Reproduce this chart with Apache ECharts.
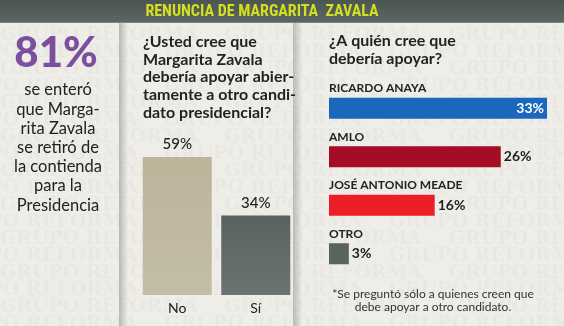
<!DOCTYPE html>
<html><head><meta charset="utf-8">
<script src="https://cdn.jsdelivr.net/npm/echarts@6/dist/echarts.min.js"></script>
<style>html,body{margin:0;padding:0;background:#eeede8}#c{width:564px;height:326px}</style>
</head><body><div id="c"></div>
<script>
// Data
var title = 'RENUNCIA DE MARGARITA  ZAVALA';
var leftBig = '81%';
var leftText = ['se enteró', 'que Marga-', 'rita Zavala', 'se retiró de', 'la contienda', 'para la', 'Presidencia'];
var q1Lines = ['¿Usted cree que', 'Margarita Zavala', 'debería apoyar abier-', 'tamente a otro candi-', 'dato presidencial?'];
var q1Categories = ['No', 'Sí'];
var q1Values = [59, 34];
var q2Lines = ['¿A quién cree que', 'debería apoyar?'];
var q2Categories = ['RICARDO ANAYA', 'AMLO', 'JOSÉ ANTONIO MEADE', 'OTRO'];
var q2Values = [33, 26, 16, 3];
var footnote = ['*Se preguntó sólo a quienes creen que', 'debe apoyar a otro candidato.'];

var F = 'Lato, "Open Sans", sans-serif';
var q1Colors = ['#bcb49b', '#58625e'];
var q2Colors = ['#1a67bd', '#a60c25', '#ec1f27', '#59635f'];

var graphics = [];
// watermark
for (var r = 0; r < 18; r++) {
  var y = 26 + r * 17;
  var off = (r % 2) ? -60 : 0;
  graphics.push({type:'text', silent:true, z:0, x: off, y: y,
    style:{text:'GRUPO REFORMA    GRUPO REFORMA    GRUPO REFORMA    GRUPO REFORMA', font:'bold 19px "DejaVu Serif", serif', fill:'rgba(110,105,90,0.045)'}});
}
// title bar
graphics.push({type:'rect', z:5, shape:{x:0,y:0,width:564,height:23},
  style:{fill:new echarts.graphic.LinearGradient(0,0,0,1,[{offset:0,color:'#4b5552'},{offset:1,color:'#5c6763'}])}});
graphics.push({type:'rect', z:5, shape:{x:0,y:22,width:564,height:1}, style:{fill:'#7d8682'}});
graphics.push({type:'text', z:6, x:262, y:12, style:{text:title, font:'bold 16px "Liberation Sans Narrow", "Roboto Condensed", Lato, sans-serif', fill:'#d3df1f', textAlign:'center', textVerticalAlign:'middle'}});
// panel shadows
[119, 293].forEach(function(x){
  graphics.push({type:'rect', z:4, shape:{x:x,y:23,width:9,height:303},
    style:{fill:new echarts.graphic.LinearGradient(0,0,1,0,[{offset:0,color:'rgba(90,90,80,0.35)'},{offset:1,color:'rgba(90,90,80,0)'}])}});
});
// left panel
graphics.push({type:'text', z:6, x:56, y:53, style:{text:leftBig, font:'900 42px '+F, fill:'#7b4f9d', textAlign:'center', textVerticalAlign:'middle'}});
leftText.forEach(function(t,i){
  graphics.push({type:'text', z:6, x:58, y:90 + i*19.2, style:{text:t, font:'16.5px '+F, fill:'#222', textAlign:'center', textVerticalAlign:'middle'}});
});
// middle question
q1Lines.forEach(function(t,i){
  graphics.push({type:'text', z:6, x:143, y:42 + i*17.6, style:{text:t, font:'bold 16px '+F, fill:'#222', textAlign:'left', textVerticalAlign:'middle'}});
});
// right question
q2Lines.forEach(function(t,i){
  graphics.push({type:'text', z:6, x:329, y:41 + i*17.5, style:{text:t, font:'bold 16px '+F, fill:'#222', textAlign:'left', textVerticalAlign:'middle'}});
});
footnote.forEach(function(t,i){
  graphics.push({type:'text', z:6, x:433, y:294 + i*13, style:{text:t, font:'12px '+F, fill:'#333', textAlign:'center', textVerticalAlign:'middle'}});
});

var chart = echarts.init(document.getElementById('c'), null, {renderer:'canvas'});
chart.setOption({
  animation:false,
  backgroundColor:'#eeede8',
  graphic: graphics,
  grid:[
    {left:138, right:269, top:157, bottom:31},
    {left:329, right:17, top:84, height:194}
  ],
  xAxis:[
    {gridIndex:0, type:'category', data:q1Categories, axisLine:{show:false}, axisTick:{show:false},
     axisLabel:{margin:6, fontFamily:F, fontSize:14, color:'#222'}},
    {gridIndex:1, type:'value', min:0, max:q2Values[0], show:false}
  ],
  yAxis:[
    {gridIndex:0, type:'value', min:0, max:q1Values[0], show:false},
    {gridIndex:1, type:'category', data:q2Categories, inverse:true, axisLine:{show:false}, axisTick:{show:false},
     axisLabel:{inside:true, margin:0, verticalAlign:'bottom', padding:[0,0,14,0], fontFamily:F, fontSize:12, fontWeight:'bold', color:'#222'}}
  ],
  series:[
    {type:'bar', xAxisIndex:0, yAxisIndex:0, barWidth:69, z:10,
     data:q1Values.map(function(v,i){return {value:v, itemStyle:{color:new echarts.graphic.LinearGradient(0,0,0,1,[{offset:0,color:q1Colors[i]},{offset:1,color:echarts.color.lift(q1Colors[i],0.12)}])}};}),
     label:{show:true, position:'top', distance:5, formatter:'{c}%', fontFamily:F, fontSize:15, fontWeight:500, color:'#222'}},
    {type:'bar', xAxisIndex:1, yAxisIndex:1, barWidth:21, z:10,
     data:q2Values.map(function(v,i){
       var item = {value:v, itemStyle:{color:q2Colors[i]}};
       if (i===0) item.label = {position:'insideRight', color:'#fff', distance:3};
       return item;}),
     label:{show:true, position:'right', distance:3, formatter:'{c}%', fontFamily:F, fontSize:14, fontWeight:'bold', color:'#222'}}
  ]
});
</script></body></html>
